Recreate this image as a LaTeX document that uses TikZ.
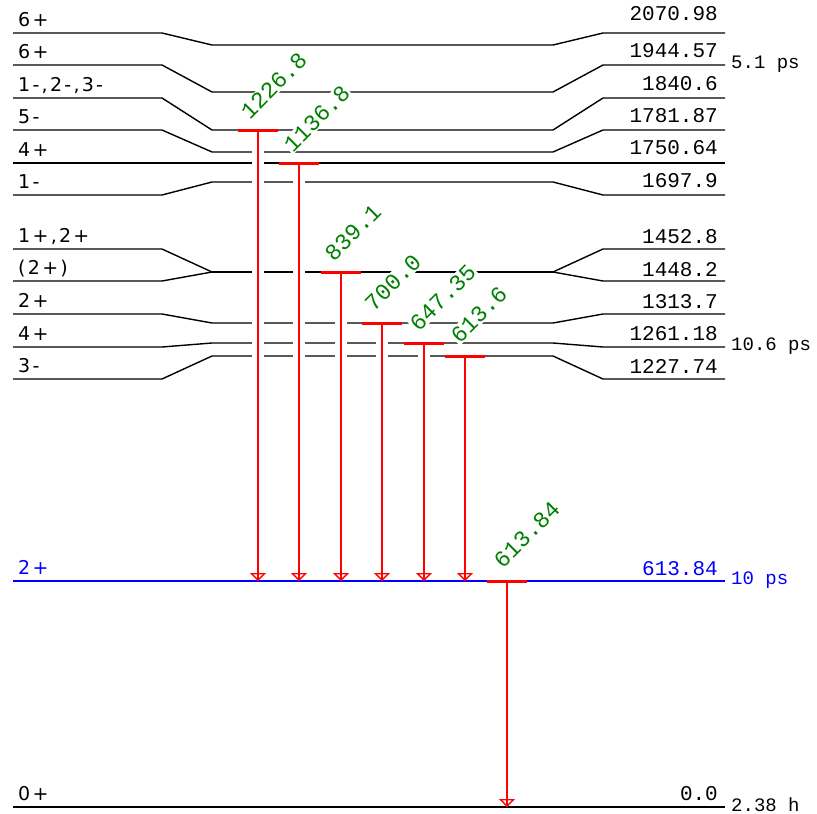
\documentclass[tikz,border=0pt]{standalone}
\usepackage{fontspec}
\usepackage{tikz}
\usetikzlibrary{arrows.meta,positioning}
\usepackage{xcolor}
\newfontfamily\spinfont[LetterSpace=12]{DejaVu Sans}
\newfontfamily\numfont{Liberation Mono}
\definecolor{gcol}{RGB}{0,128,0}

\begin{document}
\begin{tikzpicture}[
            x=1pt, y=-1pt,
            level/.style={draw=black, line width=1.4pt},
            gsline/.style={draw=blue, line width=1.4pt},
            spin/.style={anchor=base west, inner sep=0pt, font=\spinfont\fontsize{19}{21}\selectfont},
            energy/.style={anchor=base east, inner sep=0pt, font=\numfont\fontsize{21}{24}\selectfont},
            life/.style={anchor=west, inner sep=0pt, font=\numfont\fontsize{19}{22}\selectfont},
            gbar/.style={red, line width=3pt},
            gap/.style={white, line width=12pt},
            gamma/.style={red, line width=1.3pt, postaction={draw, -{Triangle[open, width=16pt, length=8pt]}}},
            glabel/.style={rotate=45, anchor=base west, inner sep=1pt, fill=white, text=gcol, font=\numfont\fontsize{23}{26}\selectfont}
        ]
            \useasboundingbox (0,0) rectangle (817,814);

            % levels
            \draw[level] (13,33) -- (162,33) -- (212,45) -- (553,45) -- (603,33) -- (725,33);
            \draw[level] (13,65) -- (162,65) -- (212,92) -- (553,92) -- (603,65) -- (725,65);
            \draw[level] (13,98) -- (162,98) -- (212,130) -- (553,130) -- (603,98) -- (725,98);
            \draw[level] (13,130) -- (162,130) -- (212,152) -- (553,152) -- (603,130) -- (725,130);
            \draw[level] (13,163) -- (725,163);
            \draw[level] (13,195) -- (162,195) -- (212,182) -- (553,182) -- (603,195) -- (725,195);
            \draw[level] (13,249) -- (162,249) -- (212,272) -- (553,272) -- (603,249) -- (725,249);
            \draw[level] (13,281) -- (162,281) -- (212,272) -- (553,272) -- (603,281) -- (725,281);
            \draw[level, line width=2.8pt] (212,272) -- (553,272);
            \draw[level] (13,314) -- (162,314) -- (212,323) -- (553,323) -- (603,314) -- (725,314);
            \draw[level] (13,347) -- (162,347) -- (212,343) -- (553,343) -- (603,347) -- (725,347);
            \draw[level] (13,379) -- (162,379) -- (212,356) -- (553,356) -- (603,379) -- (725,379);
            \draw[gsline] (13,581) -- (725,581);
            \draw[level] (13,807) -- (725,807);

            \node[spin] (s2071) at (18,26) {6+};
            \node[spin] (s1945) at (18,58) {6+};
            \node[spin] (s1841) at (18,91) {1-,2-,3-};
            \node[spin] (s1782) at (18,123) {5-};
            \node[spin] (s1751) at (18,156) {4+};
            \node[spin] (s1698) at (18,188) {1-};
            \node[spin] (s1453) at (18,242) {1+,2+};
            \node[spin] (s1448) at (18,274) {(2+)};
            \node[spin] (s1314) at (18,307) {2+};
            \node[spin] (s1261) at (18,340) {4+};
            \node[spin] (s1228) at (18,372) {3-};
            \node[spin, text=blue] (s614) at (18,574) {2+};
            \node[spin] (s0) at (18,800) {0+};

            \node[energy] (e2071) at (718,20) {2070.98};
            \node[energy] (e1945) at (718,57) {1944.57};
            \node[energy] (e1841) at (718,90) {1840.6};
            \node[energy] (e1782) at (718,122) {1781.87};
            \node[energy] (e1751) at (718,154) {1750.64};
            \node[energy] (e1698) at (718,187) {1697.9};
            \node[energy] (e1453) at (718,243) {1452.8};
            \node[energy] (e1448) at (718,276) {1448.2};
            \node[energy] (e1314) at (718,308) {1313.7};
            \node[energy] (e1261) at (718,340) {1261.18};
            \node[energy] (e1228) at (718,373) {1227.74};
            \node[energy, text=blue] (e614) at (718,575) {613.84};
            \node[energy] (e0) at (718,800) {0.0};

            \node[life] (t1945) at (731,64) {5.1 ps};
            \node[life] (t1261) at (731,346) {10.6 ps};
            \node[life, text=blue] (t614) at (731,580) {10 ps};
            \node[life] (t0) at (731,805) {2.38 h};

            % gamma rays: top on the initial level, end on the final level
            \coordinate (g1227) at (258,130);  \coordinate (f1227) at (258,581);
            \coordinate (g1137) at (299,163);  \coordinate (f1137) at (299,581);
            \coordinate (g839)  at (341,272);  \coordinate (f839)  at (341,581);
            \coordinate (g700)  at (382,323);  \coordinate (f700)  at (382,581);
            \coordinate (g647)  at (424,343);  \coordinate (f647)  at (424,581);
            \coordinate (g614a) at (465,356);  \coordinate (f614a) at (465,581);
            \coordinate (g614b) at (507,581);  \coordinate (f614b) at (507,807);

            \draw[gap] ([yshift=-3pt]g1227) -- ([yshift=6pt]f1227);
            \draw[gap] ([yshift=-3pt]g1137) -- ([yshift=6pt]f1137);
            \draw[gap] ([yshift=-3pt]g839) -- ([yshift=6pt]f839);
            \draw[gap] ([yshift=-3pt]g700) -- ([yshift=6pt]f700);
            \draw[gap] ([yshift=-3pt]g647) -- ([yshift=6pt]f647);
            \draw[gap] ([yshift=-3pt]g614a) -- ([yshift=6pt]f614a);

            \draw[gbar] ([xshift=-20pt]g1227) -- ([xshift=20pt]g1227);
            \draw[gbar] ([xshift=-20pt]g1137) -- ([xshift=20pt]g1137);
            \draw[gbar] ([xshift=-20pt]g839) -- ([xshift=20pt]g839);
            \draw[gbar] ([xshift=-20pt]g700) -- ([xshift=20pt]g700);
            \draw[gbar] ([xshift=-20pt]g647) -- ([xshift=20pt]g647);
            \draw[gbar] ([xshift=-20pt]g614a) -- ([xshift=20pt]g614a);
            \draw[gbar] ([xshift=-20pt]g614b) -- ([xshift=20pt]g614b);

            \draw[gamma] (g1227) -- (f1227);
            \draw[gamma] (g1137) -- (f1137);
            \draw[gamma] (g839) -- (f839);
            \draw[gamma] (g700) -- (f700);
            \draw[gamma] (g647) -- (f647);
            \draw[gamma] (g614a) -- (f614a);
            \draw[gamma] (g614b) -- (f614b);

            \node[glabel] (l1227) at ([xshift=-9pt, yshift=9pt]g1227) {1226.8};
            \node[glabel] (l1137) at ([xshift=-7pt, yshift=9pt]g1137) {1136.8};
            \node[glabel] (l839)  at ([xshift=-8pt, yshift=9pt]g839) {839.1};
            \node[glabel] (l700)  at ([xshift=-9pt, yshift=10pt]g700) {700.0};
            \node[glabel] (l647)  at ([xshift=-6pt, yshift=10pt]g647) {647.35};
            \node[glabel] (l614a) at ([xshift=-6pt, yshift=11pt]g614a) {613.6};
            \node[glabel] (l614b) at ([xshift=-5pt, yshift=11pt]g614b) {613.84};
        \end{tikzpicture}
\end{document}
